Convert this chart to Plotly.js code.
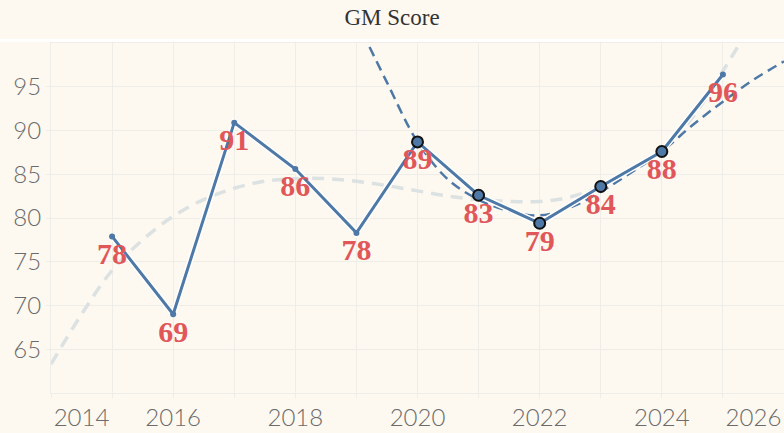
<!DOCTYPE html>
<html>
<head>
<meta charset="utf-8">
<script src="https://cdn.plot.ly/plotly-3.0.1.min.js"></script>
<style>
  html, body { margin: 0; padding: 0; background: #fdf9f1; }
  #chart { width: 784px; height: 433px; }
</style>
</head>
<body>
<div id="chart"></div>
<script>
// GM score by year
var years = [2015, 2016, 2017, 2018, 2019, 2020, 2021, 2022, 2023, 2024, 2025];
var scores = [77.9, 69.0, 90.9, 85.6, 78.3, 88.7, 82.6, 79.4, 83.6, 87.6, 96.4];

// years picked out with ringed markers
var focusFrom = 2020;
var focusTo = 2024;

// long trend (light grey dashes)
var trendYears = [2014, 2014.5, 2015, 2015.5, 2016, 2016.5, 2017, 2017.5, 2018, 2018.5, 2019, 2019.5,
                  2020, 2020.5, 2021, 2021.5, 2022, 2022.5, 2023, 2023.5, 2024, 2024.5, 2025, 2025.5];
var trendVals = [63.3, 69.0, 74.0, 77.5, 80.2, 82.1, 83.4, 84.2, 84.5, 84.5, 84.2, 83.7,
                 83.1, 82.5, 82.1, 81.9, 81.9, 82.4, 83.6, 85.3, 87.8, 91.5, 96.8, 102.6];

// recent trend (blue dashes)
var recentYears = [2019.1, 2019.5, 2020, 2020.5, 2021, 2021.5, 2022, 2022.5, 2023, 2023.5, 2024, 2024.5, 2025, 2025.5, 2026];
var recentVals = [101.2, 95.5, 88.7, 84.4, 82.1, 80.8, 80.3, 81.2, 83.0, 85.2, 87.6, 90.6, 93.3, 95.8, 97.9];

// tick labels
var yTicks = [65, 70, 75, 80, 85, 90, 95];
var xLabels = ['2014', '2016', '2018', '2020', '2022', '2024', '2026'];
var xLabelAt = [2014.5, 2016, 2018, 2020, 2022, 2024, 2025.5];

var blue = '#4e79a7';
var grid = '#eeede8';
var axisText = '#6b6b6b';
var tickFont = { family: 'Lato, Open Sans, sans-serif', size: 24, color: axisText, weight: 300 };

var focusYears = years.filter(function(y) { return y >= focusFrom && y <= focusTo; });
var focusScores = scores.filter(function(v, i) { return years[i] >= focusFrom && years[i] <= focusTo; });

var traceTrend = {
    x: trendYears, y: trendVals,
    mode: 'lines', type: 'scatter',
    line: { color: '#dce1e1', width: 3.5, dash: '12px,8px', shape: 'spline' },
    hoverinfo: 'skip'
};

var traceRecent = {
    x: recentYears, y: recentVals,
    mode: 'lines', type: 'scatter',
    line: { color: blue, width: 2.5, dash: '10px,6px', shape: 'spline' },
    hoverinfo: 'skip'
};

var traceHalo = {
    x: years, y: scores,
    mode: 'lines', type: 'scatter',
    line: { color: '#ffffff', width: 6 },
    hoverinfo: 'skip'
};

var traceMain = {
    x: years, y: scores,
    mode: 'lines+markers+text', type: 'scatter',
    line: { color: blue, width: 3 },
    marker: { color: blue, size: 6 },
    texttemplate: '%{y:.0f}',
    textposition: 'bottom center',
    textfont: { family: 'Liberation Serif, Times New Roman, serif', size: 30, color: '#e15759', weight: 'bold' },
    cliponaxis: false
};

var traceFocus = {
    x: focusYears, y: focusScores,
    mode: 'markers', type: 'scatter',
    marker: { color: blue, size: 11, line: { color: '#111111', width: 2 } }
};

// empty trace so the label axis gets drawn
var traceLabels = {
    x: [xLabelAt[0]], y: [null],
    xaxis: 'x2', mode: 'markers', type: 'scatter',
    hoverinfo: 'skip'
};

var data = [traceTrend, traceRecent, traceHalo, traceMain, traceFocus, traceLabels];

var layout = {
    width: 784, height: 433,
    margin: { l: 51, r: 0, t: 43, b: 40 },
    paper_bgcolor: '#fdf9f1',
    plot_bgcolor: '#fdf9f1',
    showlegend: false,
    title: {
        text: 'GM Score',
        x: 0.5, xref: 'container', xanchor: 'center',
        y: 1 - 17 / 433, yref: 'container', yanchor: 'middle',
        font: { family: 'Liberation Serif, Times New Roman, serif', size: 23, color: '#333333' }
    },
    xaxis: {
        range: [2014, 2026],
        tick0: 2014, dtick: 1,
        showgrid: true, gridcolor: grid,
        zeroline: false,
        showline: true, mirror: true, linecolor: grid,
        ticks: 'outside', ticklen: 4, tickcolor: grid,
        showticklabels: false
    },
    xaxis2: {
        overlaying: 'x', anchor: 'y', side: 'bottom',
        range: [2014, 2026],
        tickmode: 'array', tickvals: xLabelAt, ticktext: xLabels,
        showgrid: false, zeroline: false, ticks: '',
        ticklabelstandoff: 8,
        tickfont: tickFont
    },
    yaxis: {
        range: [60, 100],
        tickmode: 'array', tickvals: yTicks,
        showgrid: true, gridcolor: grid,
        zeroline: false,
        showline: true, mirror: true, linecolor: grid,
        ticks: 'outside', ticklen: 4, tickcolor: grid,
        tickfont: tickFont
    },
    shapes: [{
        type: 'line', xref: 'paper', yref: 'paper',
        x0: -0.07, x1: 1, y0: 1.008, y1: 1.008,
        line: { color: '#ffffff', width: 3 }
    }]
};

Plotly.newPlot('chart', data, layout, { displayModeBar: false, staticPlot: true });
</script>
</body>
</html>
